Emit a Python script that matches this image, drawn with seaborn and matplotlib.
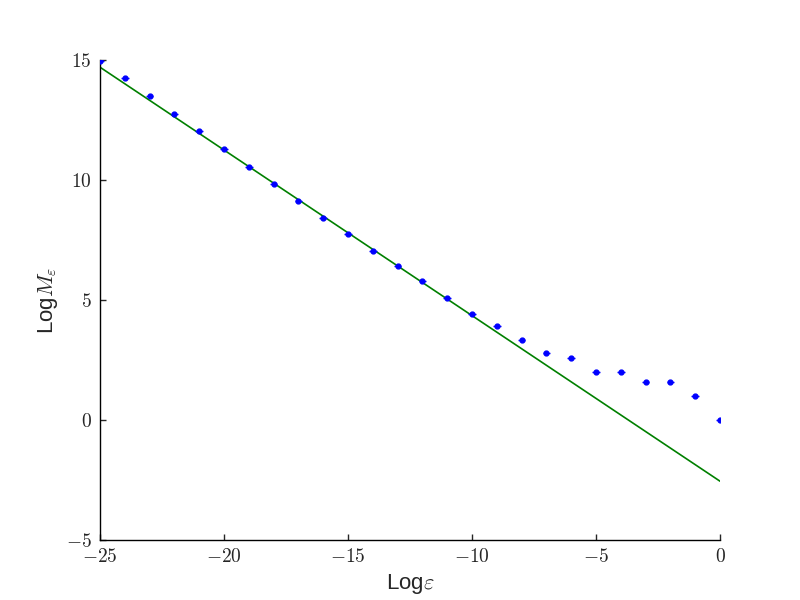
import matplotlib
matplotlib.use("Agg")
import matplotlib.pyplot as plt
import matplotlib.ticker as mticker
import seaborn as sns
import pandas as pd

# box-counting data: log(epsilon) vs log(M_epsilon)
log_eps = [-25, -24, -23, -22, -21, -20, -19, -18, -17, -16, -15, -14, -13,
           -12, -11, -10, -9, -8, -7, -6, -5, -4, -3, -2, -1, 0]
log_m = [14.96, 14.25, 13.5, 12.75, 12.04, 11.29, 10.54, 9.83, 9.13, 8.42,
         7.75, 7.04, 6.42, 5.79, 5.08, 4.42, 3.91, 3.32, 2.81, 2.58,
         2.0, 2.0, 1.58, 1.58, 1.0, 0.0]
x_err = 0.15

# linear fit line
fit_x = [-25, 0]
fit_y = [14.7, -2.55]

sns.set_style("white")
plt.rcParams['mathtext.fontset'] = 'cm'
plt.rcParams['font.family'] = ['Liberation Sans', 'DejaVu Sans']

fig = plt.figure(figsize=(8, 6), dpi=100)
ax = fig.add_axes([0.125, 0.1, 0.775, 0.8])

ax.errorbar(log_eps, log_m, xerr=x_err, fmt='o', color='blue',
            markersize=3.5, elinewidth=1, capsize=0, zorder=3)
df_fit = pd.DataFrame({'x': fit_x, 'y': fit_y})
sns.lineplot(data=df_fit, x='x', y='y', color='green', linewidth=1.2, ax=ax)

ax.set_xlim(-25, 0)
ax.set_ylim(-5, 15)
ax.set_xticks([-25, -20, -15, -10, -5, 0])
ax.set_yticks([-5, 0, 5, 10, 15])
ax.xaxis.set_major_formatter(mticker.FuncFormatter(lambda v, p: r'$%d$' % v))
ax.yaxis.set_major_formatter(mticker.FuncFormatter(lambda v, p: r'$%d$' % v))
ax.tick_params(direction='in', length=4, width=1, labelsize=14, pad=6,
               left=True, bottom=True, top=False, right=False)

for side in ['top', 'right']:
    ax.spines[side].set_visible(False)
for side in ['left', 'bottom']:
    ax.spines[side].set_color('black')
    ax.spines[side].set_linewidth(1)

ax.set_xlabel(r'Log$\varepsilon$', fontsize=16)
ax.set_ylabel(r'Log$M_\varepsilon$', fontsize=16)

fig.savefig('out.png', dpi=100)
